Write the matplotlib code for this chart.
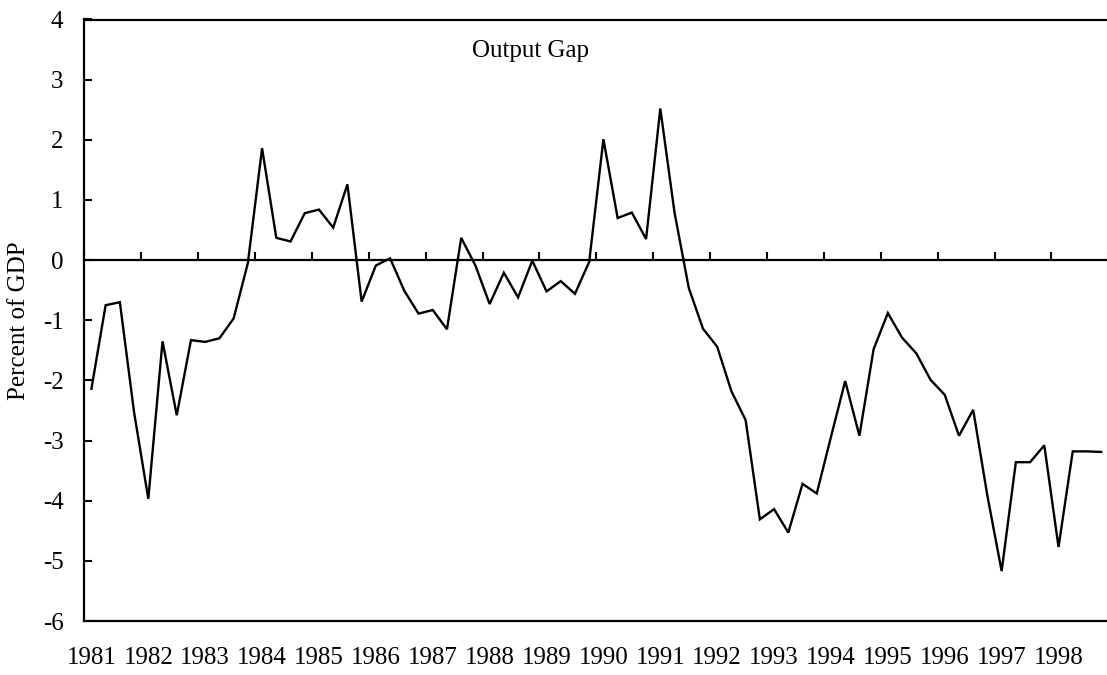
import matplotlib
matplotlib.use("Agg")
import matplotlib.pyplot as plt
import numpy as np

# Quarterly output gap, 1981Q1 - 1998Q4 (percent of GDP)
years = [str(y) for y in range(1981, 1999)]
output_gap = [
    -2.14, -0.75, -0.70, -2.53,   # 1981
    -3.97, -1.35, -2.58, -1.33,   # 1982
    -1.36, -1.30, -0.97, -0.05,   # 1983
     1.86,  0.37,  0.31,  0.78,   # 1984
     0.84,  0.54,  1.26, -0.69,   # 1985
    -0.09,  0.03, -0.51, -0.89,   # 1986
    -0.83, -1.15,  0.37, -0.09,   # 1987
    -0.73, -0.21, -0.62, -0.01,   # 1988
    -0.52, -0.35, -0.56, -0.03,   # 1989
     2.01,  0.70,  0.79,  0.35,   # 1990
     2.52,  0.79, -0.46, -1.14,   # 1991
    -1.44, -2.18, -2.66, -4.31,   # 1992
    -4.14, -4.53, -3.72, -3.88,   # 1993
    -2.94, -2.01, -2.92, -1.48,   # 1994
    -0.88, -1.29, -1.55, -1.99,   # 1995
    -2.24, -2.92, -2.49, -3.92,   # 1996
    -5.17, -3.36, -3.36, -3.08,   # 1997
    -4.77, -3.18, -3.18, -3.19,   # 1998
]
y_ticks = [4, 3, 2, 1, 0, -1, -2, -3, -4, -5, -6]
title = "Output Gap"
ylabel = "Percent of GDP"

plt.rcParams['font.family'] = ['Liberation Serif', 'DejaVu Serif']
plt.rcParams['axes.unicode_minus'] = False

W, H = 1107, 675
fig = plt.figure(figsize=(W / 100, H / 100), dpi=100)
ax = fig.add_axes([84.3 / W, (H - 621) / H, 1024 / W, 601.5 / H])

n = len(output_gap)
x = np.arange(n) + 0.5
ax.plot(x, output_gap, color='black', lw=1.7, solid_joinstyle='miter', zorder=3)

ax.set_xlim(0, 72)
ax.set_ylim(-6, 4)

# y axis
ax.set_yticks(y_ticks)
ax.set_yticklabels([str(v) for v in y_ticks])
ax.tick_params(axis='y', direction='in', length=6, width=1.5, pad=15, labelsize=18)

# x labels along the bottom frame, one per year at the first quarter
ax.set_xticks(np.arange(0, n, 4) + 0.5)
ax.set_xticklabels(years)
ax.tick_params(axis='x', length=0, pad=19, labelsize=18)

for side in ['left', 'bottom', 'top']:
    ax.spines[side].set_linewidth(1.6)
ax.spines['right'].set_visible(False)

# zero line with year ticks
ax2 = ax.twiny()
ax2.set_xlim(0, 72)
for side in ['left', 'right', 'top']:
    ax2.spines[side].set_visible(False)
ax2.spines['bottom'].set_position(('data', 0))
ax2.spines['bottom'].set_linewidth(1.6)
ax2.xaxis.set_ticks_position('bottom')
ax2.set_xticks(np.arange(0, n + 1, 4))
ax2.tick_params(axis='x', direction='in', length=6, width=1.5,
                labelbottom=False, labeltop=False, top=False)

ax.text(0.4357, 0.938, title, transform=ax.transAxes, ha='center',
        va='baseline', fontsize=18)

ax.set_ylabel(ylabel, fontsize=18)
ax.yaxis.set_label_coords(-0.0526, 0.5)

fig.savefig("out.png", dpi=100)
